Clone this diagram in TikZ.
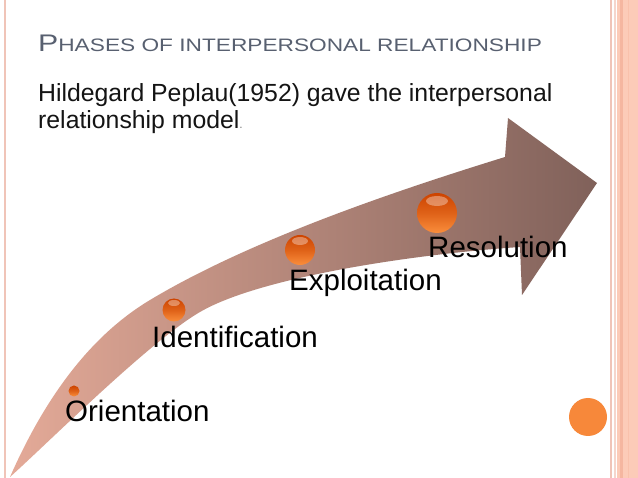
\documentclass[tikz,border=0pt]{standalone}
\usepackage{fontspec}
\setmainfont{Liberation Sans}
\usepackage{tikz}
\definecolor{slidepink}{RGB}{240,196,184}
\definecolor{bandpeach}{RGB}{252,203,184}
\definecolor{bandstripe}{RGB}{245,182,160}
\definecolor{titlegray}{RGB}{88,96,112}
\definecolor{dotorange}{RGB}{247,136,58}
\definecolor{tailpink}{RGB}{228,170,152}
\definecolor{headbrown}{RGB}{128,97,90}
\definecolor{beaddark}{RGB}{205,68,0}
\definecolor{beadlight}{RGB}{250,142,60}

\begin{document}
\begin{tikzpicture}[x=1pt,y=-1pt,
  phase/.style={anchor=base west,inner sep=0pt,font=\fontsize{29.5}{34}\selectfont},
  plain/.style={anchor=base west,inner sep=0pt,font=\fontsize{24.8}{28}\selectfont,text={rgb,255:red,20;green,20;blue,20}},
  bead/.style={top color=beaddark,bottom color=beadlight,middle color=beaddark!60!beadlight},
  glint/.style={fill=white,opacity=0.35}]
		\useasboundingbox (0,0) rectangle (638,478);
		\fill[white] (0,0) rectangle (638,478);
		% slide borders
		\fill[slidepink] (3.5,0) rectangle (6,478);
		\fill[slidepink] (610,0) rectangle (612,478);
		\fill[slidepink!70] (614,0) rectangle (616,478);
		\fill[bandpeach] (617,0) rectangle (638,478);
		\fill[bandstripe] (620,0) rectangle (622.5,478);
		\fill[bandstripe!50!bandpeach] (627.5,0) rectangle (629,478);
		% curved arrow
		\shade[left color=tailpink,right color=headbrown]
			(10,477) .. controls (54,377) and (105,327) .. (150,300)
			.. controls (250,240) and (395,191) .. (505,157)
			-- (508,118) -- (597,183) -- (522,295) -- (520,247)
			.. controls (415,254) and (260,277) .. (200,312)
			.. controls (150,341) and (50,441) .. (10,477) -- cycle;
		% beads on the arrow
		\shade[bead] (74,391) circle (5.5pt);
		\shade[bead] (174,310) circle (11.5pt);
		\shade[bead] (300,250) circle (15pt);
		\shade[bead] (437,213) circle (20pt);
		\fill[glint] (174,303) ellipse (6pt and 3pt);
		\fill[glint] (300,241) ellipse (8pt and 4pt);
		\fill[glint] (437,201) ellipse (11pt and 5pt);
		\fill[dotorange] (588,417) circle (19pt);
		% texts
		\node[anchor=base west,inner sep=0pt,text=titlegray] (title) at (38,52)
			{\scalebox{1.26}[1]{\fontsize{24}{27}\selectfont P\fontsize{18}{21}\selectfont HASES OF INTERPERSONAL RELATIONSHIP}};
		\node[plain] (intro) at (38,102) {Hildegard Peplau(1952) gave the interpersonal};
		\node[plain] (intromore) at (38,128.5) {relationship model{\fontsize{12}{12}\selectfont\color{gray}.}};
		\node[phase] (orient) at (65,422) {Orientation};
		\node[phase] (ident) at (152,348) {Identification};
		\node[phase] (exploit) at (289,291) {Exploitation};
		\node[phase] (resol) at (428,258) {Resolution};
\end{tikzpicture}
\end{document}
